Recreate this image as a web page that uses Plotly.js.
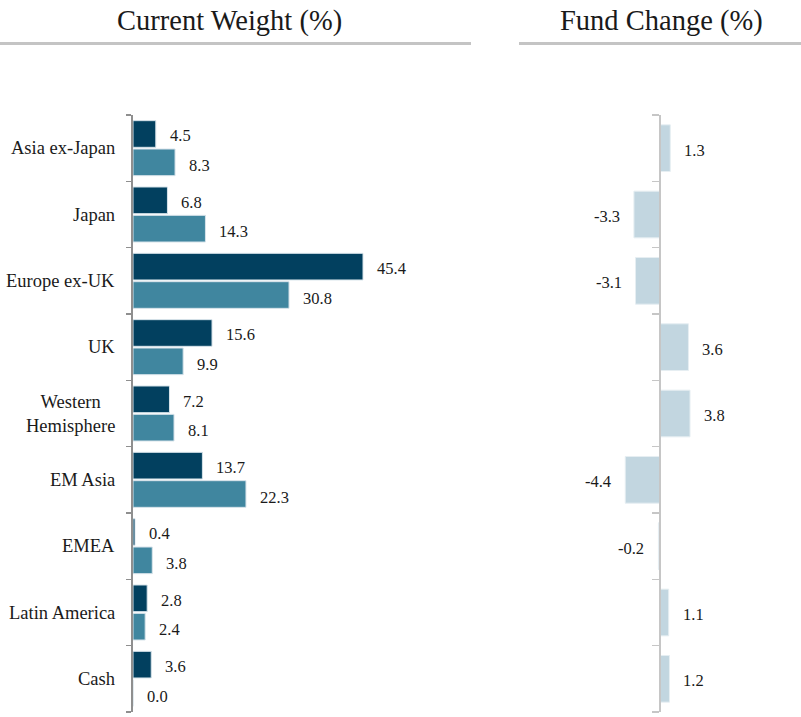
<!DOCTYPE html>
<html><head><meta charset="utf-8">
<script src="https://cdn.plot.ly/plotly-3.0.1.min.js"></script>
<style>html,body{margin:0;padding:0;background:#fff;} #chart{width:801px;height:717px;}</style>
</head><body><div id="chart"></div>
<script>
// ---- data ----
const categories = ['Asia ex-Japan', 'Japan', 'Europe ex-UK', 'UK', 'Western<br>Hemisphere', 'EM Asia', 'EMEA', 'Latin America', 'Cash'];
const weightSeriesA = [4.5, 6.8, 45.4, 15.6, 7.2, 13.7, 0.4, 2.8, 3.6];
const weightSeriesB = [8.3, 14.3, 30.8, 9.9, 8.1, 22.3, 3.8, 2.4, 0.0];
const fundChange = [1.3, -3.3, -3.1, 3.6, 3.8, -4.4, -0.2, 1.1, 1.2];
const panelTitles = ['Current Weight (%)', 'Fund Change (%)'];

// ---- style ----
const W = 801, H = 717;
const px = v => v / W, py = v => 1 - v / H;
const serif = 'Liberation Serif, Times New Roman, serif';
const cDark = '#02405f', cTeal = '#40869f', cLight = '#c2d6e0';
const idx = categories.map((_, i) => i);
const off = 0.222;

const traces = [
  {type: 'bar', orientation: 'h', x: weightSeriesA, y: idx, xaxis: 'x', yaxis: 'y',
   marker: {color: cDark, line: {color: '#d7e3ea', width: 1}}, hoverinfo: 'skip'},
  {type: 'bar', orientation: 'h', x: weightSeriesB, y: idx, xaxis: 'x', yaxis: 'y',
   marker: {color: cTeal, line: {color: '#d7e3ea', width: 1}}, hoverinfo: 'skip'},
  {type: 'bar', orientation: 'h', x: fundChange, y: idx, xaxis: 'x2', yaxis: 'y2', width: 0.704, offsetgroup: 'c',
   marker: {color: cLight, line: {color: '#e6eef2', width: 1}}, hoverinfo: 'skip'}
];

const ann = [];
const valFont = {family: serif, size: 16.5, color: '#1a1a1a'};
categories.forEach((c, i) => {
  ann.push({xref: 'paper', yref: 'y', x: px(117), y: i, xanchor: 'right', yanchor: 'middle',
    text: c, showarrow: false, align: 'center', font: {family: serif, size: 18.5, color: '#1a1a1a'}});
  ann.push({xref: 'x', yref: 'y', x: weightSeriesA[i], y: i - off, xanchor: 'left', yanchor: 'middle', xshift: 12, yshift: -2.5,
    text: weightSeriesA[i].toFixed(1), showarrow: false, font: valFont});
  ann.push({xref: 'x', yref: 'y', x: weightSeriesB[i], y: i + off, xanchor: 'left', yanchor: 'middle', xshift: 12, yshift: -2.5,
    text: weightSeriesB[i].toFixed(1), showarrow: false, font: valFont});
  const v = fundChange[i];
  ann.push({xref: 'x2', yref: 'y2', x: v, y: i, xanchor: v >= 0 ? 'left' : 'right', yanchor: 'middle',
    xshift: v >= 0 ? 12 : -12, yshift: -2, text: v.toFixed(1), showarrow: false, font: valFont});
});
ann.push({xref: 'paper', yref: 'paper', x: px(230), y: py(21), xanchor: 'center', yanchor: 'middle',
  text: panelTitles[0], showarrow: false, font: {family: serif, size: 28.5, color: '#1a1a1a'}});
ann.push({xref: 'paper', yref: 'paper', x: px(661), y: py(21), xanchor: 'center', yanchor: 'middle',
  text: panelTitles[1], showarrow: false, font: {family: serif, size: 28.5, color: '#1a1a1a'}});

const yDom = [5 / H, 602 / H];
const tickBounds = idx.map(i => i - 0.5).concat([categories.length - 0.5]);
const layout = {
  width: W, height: H, margin: {l: 0, r: 0, t: 0, b: 0},
  paper_bgcolor: '#fff', plot_bgcolor: 'rgba(0,0,0,0)',
  showlegend: false, barmode: 'group', bargap: 0.145, bargroupgap: 0.06,
  xaxis: {domain: [px(133), px(471)], range: [0, 338 / 5.066], visible: false, fixedrange: true, anchor: 'y'},
  xaxis2: {domain: [px(519), 1], range: [-17.85, 17.85], visible: false, fixedrange: true, anchor: 'y2'},
  yaxis: {domain: yDom, type: 'linear', range: [8.5, -0.5], showgrid: false, zeroline: false,
    showline: true, linecolor: '#8f8f8f', linewidth: 2, ticks: 'outside', ticklen: 5, tickwidth: 1.5, tickcolor: '#8f8f8f',
    tickmode: 'array', tickvals: tickBounds, showticklabels: false,
    anchor: 'x', fixedrange: true},
  yaxis2: {domain: yDom, type: 'linear', range: [8.5, -0.5], showgrid: false, zeroline: false,
    showline: true, linecolor: '#c6c6c6', linewidth: 2, ticks: 'outside', ticklen: 7, tickwidth: 1.5, tickcolor: '#c6c6c6',
    tickmode: 'array', tickvals: tickBounds, showticklabels: false,
    anchor: 'free', position: px(660), fixedrange: true},
  shapes: [
    {type: 'line', xref: 'paper', yref: 'paper', x0: 0, x1: px(471), y0: py(43.5), y1: py(43.5), line: {color: '#c4c4c4', width: 3}},
    {type: 'line', xref: 'paper', yref: 'paper', x0: px(519), x1: 1, y0: py(43.5), y1: py(43.5), line: {color: '#c4c4c4', width: 3}}
  ],
  annotations: ann
};
Plotly.newPlot('chart', traces, layout, {displayModeBar: false, staticPlot: true});
</script></body></html>
